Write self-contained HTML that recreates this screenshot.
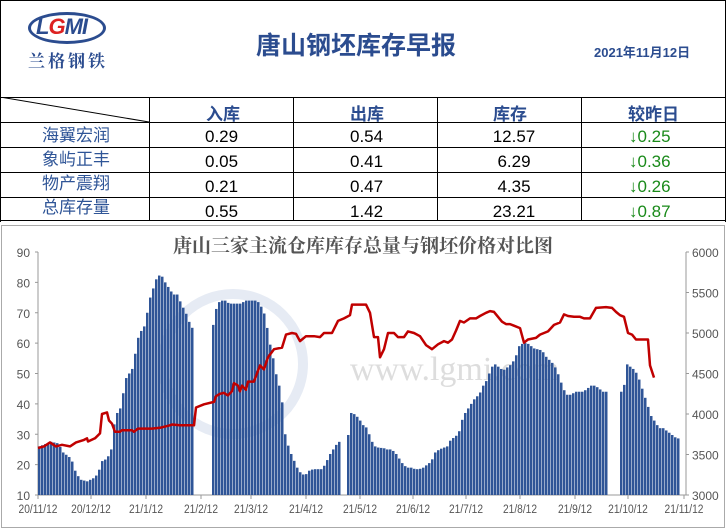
<!DOCTYPE html>
<html><head><meta charset="utf-8"><style>
body{margin:0;width:726px;height:529px;background:#fff;font-family:"Liberation Sans","Noto Sans CJK SC",sans-serif;position:relative;overflow:hidden}
.abs{position:absolute}
.h{color:#2b4c8f;font-weight:bold}
</style></head><body>
<div class="abs" style="left:0;top:0;width:724px;height:221px;border:1px solid #000;border-bottom:none"></div>
<div class="abs" style="left:28px;top:12px;width:78px;height:32px;border:3px solid #2b4c8f;border-radius:50%;box-sizing:border-box"></div>
<div class="abs" style="left:36px;top:14px;font:italic bold 22px 'Liberation Sans',sans-serif;color:#2b4c8f;letter-spacing:-1px">L<span style="color:#d22">G</span>MI</div>
<div class="abs" style="left:28px;top:47px;font:bold 17px 'Noto Serif CJK SC',serif;color:#2b4c8f;letter-spacing:3px">兰格钢铁</div>
<div class="abs h" style="left:256px;top:26px;font-size:25px">唐山钢坯库存早报</div>
<div class="abs h" style="left:594px;top:42px;font-size:13px">2021年11月12日</div>
<div class="abs" style="left:0;top:97px;width:726px;border-top:1px solid #000"></div>
<div class="abs" style="left:0;top:122px;width:726px;border-top:1px solid #000"></div>
<div class="abs" style="left:0;top:147px;width:726px;border-top:1px solid #000"></div>
<div class="abs" style="left:0;top:172px;width:726px;border-top:1px solid #000"></div>
<div class="abs" style="left:0;top:197px;width:726px;border-top:1px solid #000"></div>
<div class="abs" style="left:0;top:220px;width:726px;border-top:1px solid #000"></div>
<div class="abs" style="left:149px;top:97px;height:124px;border-left:1px solid #000"></div>
<div class="abs" style="left:293px;top:97px;height:124px;border-left:1px solid #000"></div>
<div class="abs" style="left:437px;top:97px;height:124px;border-left:1px solid #000"></div>
<div class="abs" style="left:581px;top:97px;height:124px;border-left:1px solid #000"></div>
<svg class="abs" style="left:0;top:97px" width="150" height="26"><line x1="0" y1="0" x2="149" y2="25" stroke="#000"/></svg>
<div class="abs h" style="left:206px;top:100px;font-size:17px">入库</div>
<div class="abs h" style="left:350px;top:100px;font-size:17px">出库</div>
<div class="abs h" style="left:493px;top:100px;font-size:17px">库存</div>
<div class="abs h" style="left:628px;top:100px;font-size:17px">较昨日</div>
<div class="abs" style="left:42px;top:124px;font-size:17px;color:#2f5597;line-height:24px">海翼宏润<br>象屿正丰<br>物产震翔<br>总库存量</div>
<div class="abs" style="left:205px;top:124px;font-size:17px;line-height:25px">0.29<br>0.05<br>0.21<br>0.55</div>
<div class="abs" style="left:350px;top:124px;font-size:17px;line-height:25px">0.54<br>0.41<br>0.47<br>1.42</div>
<div class="abs" style="left:491px;top:124px;font-size:17px;line-height:25px;text-align:center;width:46px">12.57<br>6.29<br>4.35<br>23.21</div>
<div class="abs" style="left:629px;top:124px;font-size:17px;line-height:25px;color:#1a8a1a">↓0.25<br>↓0.36<br>↓0.26<br>↓0.87</div>
<div class="abs" style="left:1px;top:225px;width:722px;height:301px;border:1px solid #aaa"></div>
<svg class="abs" id="ch" style="left:0;top:0" width="726" height="529"></svg>
<script>
var s='';
s+='<text x="363" y="252" text-anchor="middle" font-family="Noto Serif CJK SC,serif" font-size="19" font-weight="bold" fill="#555">唐山三家主流仓库库存总量与钢坯价格对比图</text>';
s+='<circle cx="233" cy="364" r="70" fill="none" stroke="#e6ebf4" stroke-width="10"/>';
s+='<text x="350" y="380" font-family="Liberation Serif,serif" font-size="34" fill="#ddd">www.lgmi.com</text>';
function yb(v){return 495-(v-10)*243/80}
function yp(p){return 495-(p-3000)*243/3000}
s+='<line x1="38" y1="252" x2="38" y2="495" stroke="#999"/><line x1="686" y1="252" x2="686" y2="495" stroke="#999"/><line x1="38" y1="495" x2="686" y2="495" stroke="#999"/>';
for(var v=10;v<=90;v+=10){var y=yb(v);s+='<line x1="35" y1="'+y+'" x2="38" y2="'+y+'" stroke="#999"/><text x="30" y="'+(y+5)+'" text-anchor="end" font-size="12" fill="#555">'+v+'</text>';}
for(var p=3000;p<=6000;p+=500){var y=yp(p);s+='<line x1="686" y1="'+y+'" x2="689" y2="'+y+'" stroke="#999"/><text x="692" y="'+(y+5)+'" font-size="12" fill="#555">'+p+'</text>';}
var xs=[38,91,146,201,251,306,360,413,466,520,575,628,684],ls=['20/11/12','20/12/12','21/1/12','21/2/12','21/3/12','21/4/12','21/5/12','21/6/12','21/7/12','21/8/12','21/9/12','21/10/12','21/11/12'];
for(var i=0;i<13;i++){s+='<line x1="'+xs[i]+'" y1="495" x2="'+xs[i]+'" y2="499" stroke="#999"/><text x="'+xs[i]+'" y="513" text-anchor="middle" font-size="12" fill="#555" transform="translate('+xs[i]+' 0) scale(.85 1) translate('+(-xs[i])+' 0)">'+ls[i]+'</text>';}
var B=[38,26,50,27.5,57,27,62,24,70,22,75,17,80,15,86,14.5,92,15.5,97,17,100,21,106,22,110,25,114,36,120,39,124,48,128,50,132,52,136,61,140,64,144,66,148,74,152,78,156,82,160,82.5,164,80,168,78,172,76,176,76,180,73,186,69,190,65,212,66,216,73,220,74,224,74,228,73,232,73,236,73,240,73,244,74,248,74,252,74,256,74,260,72,264,69,268,61,272,55,276,48,280,44,284,30,288,25,292,22,296,19,300,17,304,16.5,308,18,312,18.5,316,18.5,320,18.5,324,20,328,23,332,25,336,27,348,30,350,37,354,36.5,358,35,362,33,366,32,370,28,374,26,378,25.5,382,25.5,386,25,390,25,394,24,398,22,402,20,406,19,410,19,414,18.5,418,18.5,422,19,426,20,430,21,434,24,438,25,442,25.5,446,26,450,28.5,454,29,458,31,462,36,466,38,470,40,474,42,478,43,482,46,486,48,490,52,494,53,498,52,502,51,506,52,510,53,514,55,518,59,522,60,526,60,530,59,534,58,538,58,542,57,546,55,550,54,554,52,558,49,562,45,566,43,570,43,574,44,578,44,582,44,586,45,590,46,594,46,598,45,602,44,622,44,626,53,630,52,634,51,638,48,642,44,646,40,650,36,654,34,658,32,662,32,666,31,670,30,674,29,678,28.5];
var gaps=[[192,210],[338,346],[606,620]];
for(var x=38;x<=679;x+=3){var g=false;gaps.forEach(function(q){if(x>q[0]&&x<q[1])g=true});if(g)continue;
 var v=B[1];for(var k=0;k<B.length-2;k+=2){if(x>=B[k]&&x<=B[k+2]){var t=(x-B[k])/(B[k+2]-B[k]);v=B[k+1]+t*(B[k+3]-B[k+1]);break;}if(x>B[k+2])v=B[k+3];}
 var y=yb(v);s+='<rect x="'+x+'" y="'+y+'" width="2.5" height="'+(495-y)+'" fill="#2f5597"/>';}
var P=[38,3580,44,3600,50,3650,56,3600,62,3620,70,3600,76,3650,84,3680,87,3700,88,3660,95,3700,100,3760,102,4000,107,4020,109,3920,112,3880,115,3780,120,3780,122,3800,132,3800,134,3780,138,3820,146,3820,152,3820,160,3830,170,3860,172,3870,180,3860,194,3860,196,4080,204,4120,214,4150,216,4220,220,4250,224,4260,228,4230,232,4280,234,4380,238,4350,240,4280,242,4350,246,4300,248,4400,254,4400,260,4600,264,4550,268,4700,274,4800,282,4820,286,4980,292,5000,296,4990,300,4900,306,4960,314,4960,320,4950,324,5000,332,5000,338,5150,344,5180,350,5220,352,5350,366,5350,370,5250,374,4950,378,4950,380,4700,384,4800,388,5000,394,5000,398,4950,404,4950,408,5020,414,5000,420,4960,426,4850,432,4800,438,4860,444,4900,448,4880,452,4920,456,5030,460,5150,464,5130,470,5180,476,5180,480,5210,486,5250,490,5270,494,5260,498,5200,502,5140,506,5110,510,5110,514,5090,520,5060,524,4880,528,4920,536,4940,540,4980,548,5020,554,5100,560,5130,564,5230,568,5210,574,5200,580,5200,584,5180,590,5180,596,5310,606,5320,612,5310,616,5260,620,5220,624,5200,628,5000,632,4980,636,4920,648,4920,650,4600,654,4450];
var d='';for(var k=0;k<P.length;k+=2)d+=(k?'L':'M')+P[k]+' '+yp(P[k+1]).toFixed(1);
s+='<path d="'+d+'" fill="none" stroke="#c00000" stroke-width="2.5" stroke-linejoin="round"/>';
document.getElementById('ch').innerHTML=s;
</script>
</body></html>
